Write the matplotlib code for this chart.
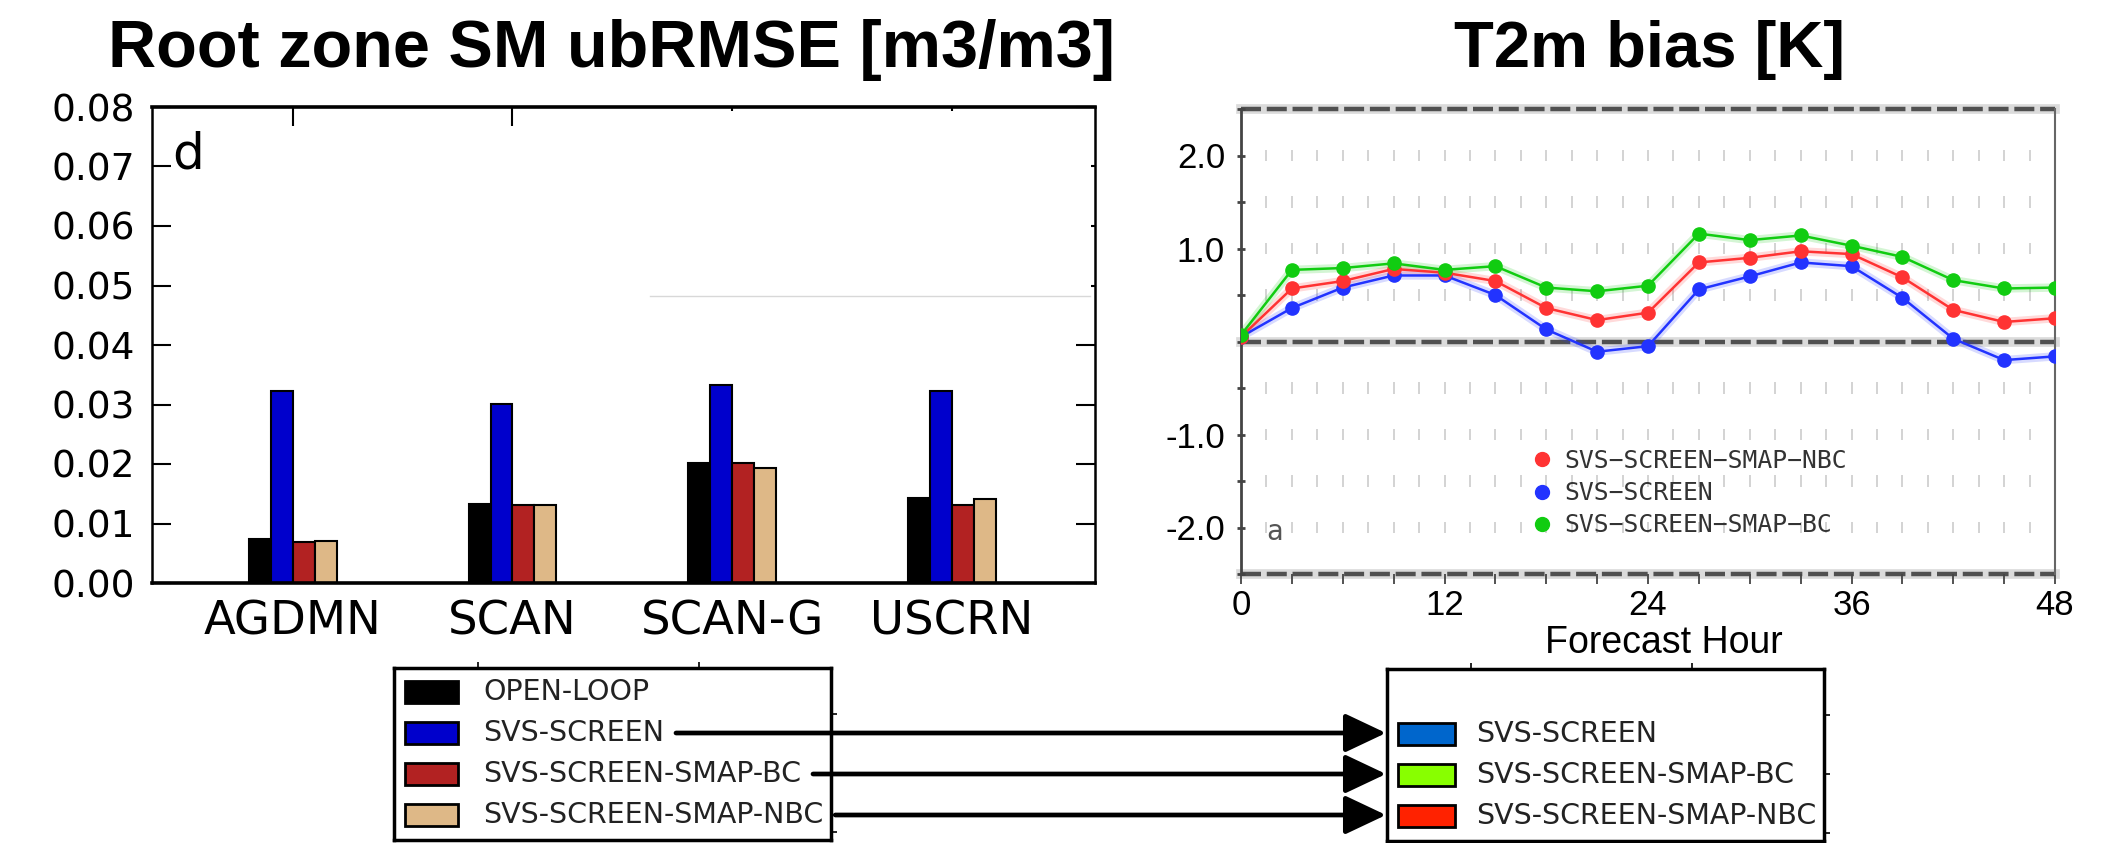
import matplotlib
matplotlib.use('Agg')
import matplotlib.pyplot as plt
import numpy as np
from matplotlib.patches import Rectangle, FancyArrowPatch, ArrowStyle
from matplotlib.lines import Line2D
from matplotlib.ticker import FormatStrFormatter

# ---- left panel: root zone soil moisture ubRMSE ----
stations = ['AGDMN', 'SCAN', 'SCAN-G', 'USCRN']
bar_series = ['OPEN-LOOP', 'SVS-SCREEN', 'SVS-SCREEN-SMAP-BC', 'SVS-SCREEN-SMAP-NBC']
bar_colors = ['#000000', '#0000cc', '#b22222', '#deb887']
ubrmse_open_loop = [0.0074, 0.0133, 0.0202, 0.0143]
ubrmse_screen = [0.0322, 0.0301, 0.0332, 0.0322]
ubrmse_bc = [0.0069, 0.0131, 0.0202, 0.0131]
ubrmse_nbc = [0.0071, 0.0131, 0.0193, 0.0142]

# ---- right panel: T2m bias vs forecast hour ----
forecast_hour = list(range(0, 49, 3))
bias_nbc = [0.05, 0.57, 0.65, 0.78, 0.74, 0.65, 0.36, 0.23, 0.31, 0.85, 0.90,
            0.97, 0.94, 0.69, 0.34, 0.21, 0.25]
bias_screen = [0.05, 0.36, 0.58, 0.71, 0.71, 0.50, 0.13, -0.11, -0.05, 0.56, 0.70,
               0.85, 0.81, 0.47, 0.03, -0.20, -0.16]
bias_bc = [0.07, 0.77, 0.79, 0.84, 0.77, 0.81, 0.58, 0.54, 0.60, 1.16, 1.09,
           1.14, 1.03, 0.91, 0.66, 0.57, 0.58]
line_series = ['SVS-SCREEN-SMAP-NBC', 'SVS-SCREEN', 'SVS-SCREEN-SMAP-BC']
line_colors = ['#ff3333', '#2233ff', '#11cc11']
y_ticks = [-2.0, -1.0, 1.0, 2.0]
y_tick_labels = ['-2.0', '-1.0', '1.0', '2.0']

# ---- bottom legend for the map colours ----
map_series = ['SVS-SCREEN', 'SVS-SCREEN-SMAP-BC', 'SVS-SCREEN-SMAP-NBC']
map_colors = ['#0066cc', '#88ff00', '#ff2200']

W, H = 2117, 843
fig = plt.figure(figsize=(W / 100, H / 100), dpi=100)

# left bars
ax1 = fig.add_axes([152 / W, 1 - 583 / H, 943 / W, 476 / H])
x = np.arange(len(stations))
w = 0.1
all_bars = [ubrmse_open_loop, ubrmse_screen, ubrmse_bc, ubrmse_nbc]
for i, (vals, c) in enumerate(zip(all_bars, bar_colors)):
    ax1.bar(x + (i - 1.5) * w, vals, w, color=c, edgecolor='black', linewidth=1.5)
ax1.set_xlim(-0.64, 3.65)
ax1.set_ylim(0, 0.08)
ax1.set_yticks(np.arange(0, 0.0801, 0.01))
ax1.yaxis.set_major_formatter(FormatStrFormatter('%.2f'))
ax1.set_xticks(x)
ax1.set_xticklabels(stations)
ax1.tick_params(axis='y', direction='in', length=14, width=1.5, right=True,
                labelsize=27, pad=12)
ax1.tick_params(axis='x', direction='in', length=14, width=1.5, top=True,
                bottom=False, labelsize=33.5, pad=12)
for s in ['left', 'right']:
    ax1.spines[s].set_linewidth(1.8)
for s in ['top', 'bottom']:
    ax1.spines[s].set_linewidth(2.6)
ax1.text(0.021, 0.95, 'd', transform=ax1.transAxes, fontsize=36, va='top', ha='left')

# white patch hiding the top right of the bar panel
fig.add_artist(Rectangle((647 / W, 1 - 296 / H), (1091 - 647) / W, (296 - 111) / H,
                         transform=fig.transFigure, facecolor='white',
                         edgecolor='none', zorder=5))
fig.add_artist(Line2D([650 / W, 1090 / W], [1 - 296 / H, 1 - 296 / H],
                      transform=fig.transFigure, color='#d8d8d8', lw=1, zorder=6))

# right lines
ax2 = fig.add_axes([1241 / W, 1 - 574 / H, 814 / W, 465 / H])
ax2.set_xlim(0, 48)
ax2.set_ylim(-2.5, 2.5)
grid_x = np.arange(1.5, 48, 1.5)
for lev in np.arange(-2.0, 2.01, 0.5):
    if lev != 0:
        ax2.vlines(grid_x, lev - 0.06, lev + 0.06, color='#cccccc', lw=1.2, zorder=0)
for yv in (2.5, 0.0, -2.5):
    ax2.axhline(yv, color='#999999', lw=7, alpha=0.35, clip_on=False, zorder=1)
    ax2.axhline(yv, color='#505050', lw=3.2, dashes=(4.5, 1.3), clip_on=False, zorder=1)
for vals, c in zip([bias_screen, bias_nbc, bias_bc], [line_colors[1], line_colors[0], line_colors[2]]):
    ax2.plot(forecast_hour, vals, color=c, lw=6, alpha=0.18, zorder=2,
             solid_capstyle='round')
    ax2.plot(forecast_hour, vals, color=c, lw=1.8, marker='o', ms=9.5, mec=c, zorder=3)
ax2.set_xticks(range(0, 49, 12))
ax2.set_xticks(range(0, 49, 3), minor=True)
ax2.set_yticks(y_ticks)
ax2.set_yticklabels(y_tick_labels)
ax2.set_yticks(np.arange(-2.5, 2.51, 0.5), minor=True)
ax2.tick_params(axis='x', which='both', direction='out', length=7, width=1.3,
                color='#444444', labelsize=25, pad=4)
ax2.tick_params(axis='y', which='both', direction='inout', length=6, width=2,
                color='#444444', labelsize=25, pad=8.5)
for lab in ax2.get_xticklabels() + ax2.get_yticklabels():
    lab.set_family('Liberation Sans')
ax2.spines['top'].set_visible(False)
ax2.spines['bottom'].set_visible(False)
ax2.spines['left'].set_color('#444444')
ax2.spines['left'].set_linewidth(2)
ax2.spines['right'].set_color('#666666')
ax2.spines['right'].set_linewidth(1.5)
ax2.set_xlabel('Forecast Hour', fontsize=27, family='Liberation Sans')
ax2.xaxis.set_label_coords((1664 - 1241) / 814, -(625 - 574) / 465)
ax2.text(2.0, -2.05, 'a', fontsize=20, color='#555555', ha='center', va='center',
         family='DejaVu Sans Mono')
handles = [Line2D([], [], ls='none', marker='o', color=c, ms=10) for c in line_colors]
leg = ax2.legend(handles, [s.replace('-', '\u2212') for s in line_series],
                 loc='upper left', bbox_to_anchor=((1530 - 1241) / 814, (574 - 449) / 465),
                 frameon=False, borderpad=0, borderaxespad=0, handlelength=1.0,
                 handletextpad=0.39, labelspacing=0.33,
                 prop={'family': 'DejaVu Sans Mono', 'size': 17.8})
for t in leg.get_texts():
    t.set_color('#333333')

# titles
fig.text(612 / W, 1 - 67 / H, 'Root zone SM ubRMSE [m3/m3]', ha='center', va='baseline',
         fontsize=48, fontweight='bold', family='Liberation Sans')
fig.text(1650 / W, 1 - 67 / H, 'T2m bias [K]', ha='center', va='baseline',
         fontsize=47, fontweight='bold', family='Liberation Sans')


# bottom legend boxes
def legend_box(left, top, labels, colors, first_row, patch_w):
    lax = fig.add_axes([left / W, 1 - (top + 172) / H, 437 / W, 172 / H])
    lax.set_xlim(0, 437)
    lax.set_ylim(172, 0)
    for s in lax.spines.values():
        s.set_linewidth(2.5)
    lax.set_xticks([84, 305])
    lax.set_yticks([46, 105, 164])
    lax.tick_params(top=True, bottom=False, left=False, right=True, direction='out',
                    length=4, width=1.2, labelbottom=False, labelleft=False)
    texts = []
    for k, (lab, c) in enumerate(zip(labels, colors)):
        yc = 24 + (first_row + k) * 41
        lax.add_patch(Rectangle((11, yc - 11), patch_w, 22, facecolor=c,
                                edgecolor='black', lw=2))
        texts.append(lax.text(89, yc, lab, va='center', fontsize=20.5, color='#222222'))
    return lax, texts


lax1, ltexts = legend_box(394, 668, bar_series, bar_colors, 0, 53)
lax2, rtexts = legend_box(1387, 669, map_series, map_colors, 1, 57)

# arrows linking the bar colours to the map colours
fig.canvas.draw()
r = fig.canvas.get_renderer()
inv = fig.transFigure.inverted()
x_end = lax2.get_window_extent(r).x0 - 1
for t in ltexts[1:]:
    bb = t.get_window_extent(r)
    yc = (bb.y0 + bb.y1) / 2
    p0 = inv.transform((bb.x1 + 12, yc))
    p1 = inv.transform((x_end, yc))
    fig.add_artist(FancyArrowPatch(p0, p1, transform=fig.transFigure,
                                   arrowstyle=ArrowStyle('-|>', head_length=0.55, head_width=0.26),
                                   mutation_scale=46, lw=3.4, color='black',
                                   shrinkA=0, shrinkB=0, zorder=10))

plt.savefig('out.png', dpi=100)
